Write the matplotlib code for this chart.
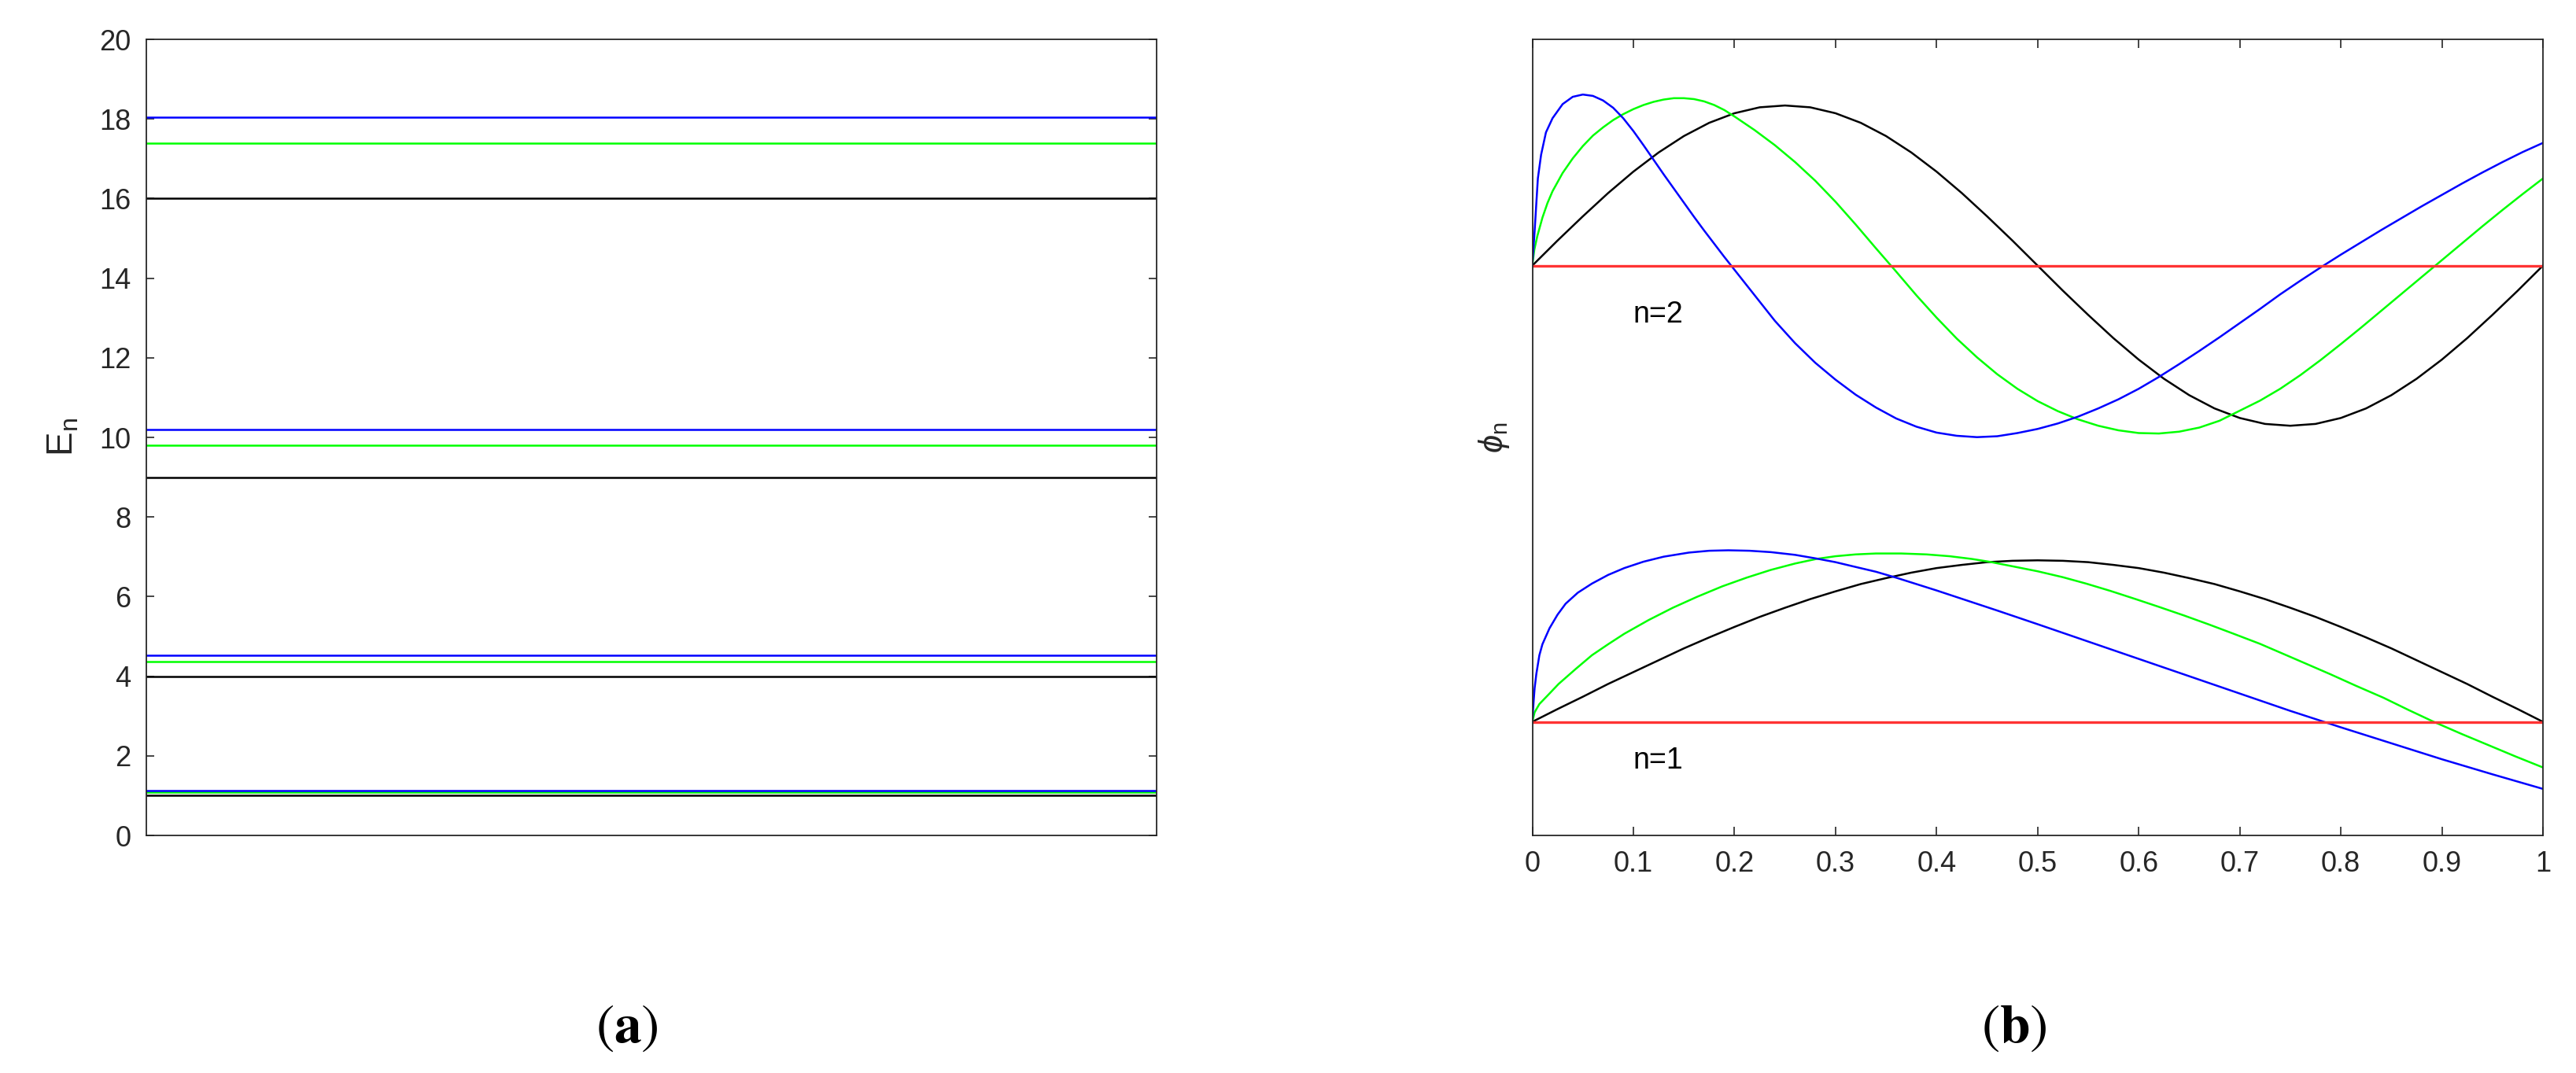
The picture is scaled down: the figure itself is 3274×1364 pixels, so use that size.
import matplotlib
matplotlib.use("Agg")
import matplotlib.pyplot as plt

plt.rcParams['font.family'] = ['Liberation Sans', 'DejaVu Sans']
plt.rcParams['mathtext.fontset'] = 'custom'
plt.rcParams['mathtext.rm'] = 'Liberation Sans'
plt.rcParams['mathtext.it'] = 'Liberation Sans:italic'
plt.rcParams['mathtext.bf'] = 'Liberation Sans:bold'

# ---------------- Panel (a): energy levels ----------------
levels_black = [1.0, 4.0, 9.0, 16.0]
levels_green = [1.087, 4.37, 9.81, 17.39]
levels_blue = [1.133, 4.52, 10.19, 18.05]
a_yticks = [0, 2, 4, 6, 8, 10, 12, 14, 16, 18, 20]

# ---------------- Panel (b): eigenfunctions ----------------
# values are read relative to each baseline (n=1 baseline, n=2 baseline)
x_grid = [0.0, 0.025, 0.05, 0.075, 0.1, 0.125, 0.15, 0.175, 0.2, 0.225, 0.25,
          0.275, 0.3, 0.325, 0.35, 0.375, 0.4, 0.425, 0.45, 0.475, 0.5,
          0.525, 0.55, 0.575, 0.6, 0.625, 0.65, 0.675, 0.7, 0.725, 0.75,
          0.775, 0.8, 0.825, 0.85, 0.875, 0.9, 0.925, 0.95, 0.975, 1.0]
phi1_black = [0, .028, .055, .083, .109, .135, .161, .185, .208, .230, .250,
              .269, .286, .302, .315, .327, .337, .344, .350, .353, .354,
              .353, .350, .344, .337, .327, .315, .302, .286, .269, .250,
              .230, .208, .185, .161, .135, .109, .083, .055, .028, 0]
phi2_black = [0, .055, .108, .159, .206, .248, .284, .313, .334, .347, .351,
              .347, .334, .313, .284, .248, .206, .159, .108, .055, 0,
              -.055, -.108, -.159, -.206, -.248, -.284, -.313, -.334, -.347, -.351,
              -.347, -.334, -.313, -.284, -.248, -.206, -.159, -.108, -.055, 0]

x1_green = [0, 0.0023, 0.007, 0.017, 0.026, 0.043, 0.059, 0.075, 0.091, 0.115,
            0.139, 0.163, 0.188, 0.212, 0.236, 0.26, 0.281, 0.30, 0.32, 0.34,
            0.365, 0.39, 0.413, 0.435, 0.452, 0.475, 0.5, 0.525, 0.548, 0.572,
            0.597, 0.62, 0.645, 0.67, 0.694, 0.72, 0.742, 0.765, 0.79, 0.815,
            0.842, 0.867, 0.892, 0.92, 0.946, 0.973, 1.0]
phi1_green = [0, 0.021, 0.039, 0.062, 0.083, 0.116, 0.146, 0.170, 0.193, 0.223,
              0.250, 0.274, 0.297, 0.316, 0.333, 0.347, 0.357, 0.363, 0.367, 0.369,
              0.369, 0.367, 0.363, 0.357, 0.351, 0.341, 0.330, 0.317, 0.303, 0.287,
              0.269, 0.252, 0.233, 0.213, 0.193, 0.171, 0.150, 0.128, 0.104, 0.079,
              0.053, 0.026, 0.0, -0.027, -0.051, -0.076, -0.100]

x1_blue = [0, 0.0013, 0.0023, 0.004, 0.007, 0.01, 0.017, 0.025, 0.033, 0.045,
           0.059, 0.075, 0.091, 0.11, 0.13, 0.155, 0.175, 0.194, 0.215, 0.236,
           0.26, 0.281, 0.30, 0.317, 0.34, 0.36, 0.38, 0.40, 0.43, 0.46, 0.5,
           0.55, 0.6, 0.65, 0.7, 0.75, 0.8, 0.85, 0.9, 0.95, 1.0]
phi1_blue = [0, 0.045, 0.074, 0.105, 0.146, 0.170, 0.205, 0.235, 0.259, 0.283,
             0.303, 0.322, 0.337, 0.351, 0.362, 0.371, 0.375, 0.376, 0.375, 0.372,
             0.366, 0.358, 0.350, 0.341, 0.329, 0.316, 0.302, 0.288, 0.266, 0.244, 0.214,
             0.176, 0.138, 0.100, 0.062, 0.024, -0.012, -0.047, -0.082, -0.115, -0.147]

x2_green = [0, 0.002, 0.005, 0.01, 0.015, 0.02, 0.03, 0.04, 0.05, 0.06, 0.07,
            0.08, 0.09, 0.10, 0.11, 0.12, 0.13, 0.14, 0.15, 0.16, 0.17, 0.18,
            0.19, 0.20, 0.22, 0.24, 0.26, 0.28, 0.30, 0.32, 0.34, 0.36, 0.38,
            0.40, 0.42, 0.44, 0.46, 0.48, 0.50, 0.52, 0.54, 0.56, 0.58, 0.60,
            0.62, 0.64, 0.66, 0.68, 0.70, 0.72, 0.74, 0.76, 0.78, 0.80, 0.82,
            0.84, 0.86, 0.88, 0.90, 0.92, 0.94, 0.96, 0.98, 1.0]
phi2_green = [0, 0.035, 0.065, 0.105, 0.137, 0.163, 0.203, 0.235, 0.262, 0.285, 0.303,
              0.319, 0.332, 0.343, 0.352, 0.359, 0.364, 0.367, 0.367, 0.365, 0.360, 0.352,
              0.341, 0.327, 0.297, 0.264, 0.227, 0.186, 0.140, 0.090, 0.038, -0.013, -0.065,
              -0.114, -0.160, -0.201, -0.238, -0.270, -0.297, -0.319, -0.337, -0.351, -0.361, -0.367,
              -0.368, -0.364, -0.355, -0.340, -0.318, -0.296, -0.270, -0.240, -0.207, -0.172, -0.136,
              -0.099, -0.062, -0.025, 0.012, 0.049, 0.086, 0.122, 0.157, 0.191]

x2_blue = [0, 0.0023, 0.0055, 0.0087, 0.0135, 0.02, 0.03, 0.04, 0.05, 0.06,
           0.07, 0.08, 0.09, 0.10, 0.11, 0.12, 0.13, 0.14, 0.15, 0.16, 0.17,
           0.18, 0.19, 0.20, 0.22, 0.24, 0.26, 0.28, 0.30, 0.32, 0.34, 0.36,
           0.38, 0.40, 0.42, 0.44, 0.46, 0.48, 0.50, 0.52, 0.54, 0.56, 0.58,
           0.60, 0.62, 0.64, 0.66, 0.68, 0.70, 0.72, 0.74, 0.76, 0.78, 0.80,
           0.82, 0.84, 0.86, 0.88, 0.90, 0.92, 0.94, 0.96, 0.98, 1.0]
phi2_blue = [0, 0.076, 0.191, 0.243, 0.292, 0.323, 0.354, 0.370, 0.375, 0.372,
             0.362, 0.346, 0.323, 0.295, 0.264, 0.232, 0.200, 0.169, 0.138, 0.107, 0.077,
             0.048, 0.019, -0.009, -0.065, -0.121, -0.170, -0.213, -0.250, -0.283, -0.311, -0.335,
             -0.353, -0.366, -0.373, -0.376, -0.374, -0.367, -0.358, -0.346, -0.331, -0.313, -0.293,
             -0.270, -0.244, -0.216, -0.187, -0.157, -0.126, -0.095, -0.063, -0.033, -0.004, 0.024,
             0.051, 0.078, 0.104, 0.130, 0.155, 0.180, 0.204, 0.227, 0.249, 0.269]

baseline_n1 = 0.0
baseline_n2 = 1.0
b_xticks = [0, 0.1, 0.2, 0.3, 0.4, 0.5, 0.6, 0.7, 0.8, 0.9, 1]
b_xticklabels = ['0', '0.1', '0.2', '0.3', '0.4', '0.5', '0.6', '0.7', '0.8', '0.9', '1']

# ---------------- Figure ----------------
W, H = 3274, 1364
fig = plt.figure(figsize=(W / 100, H / 100), dpi=100)

ax_top = 50
ax_bot = 1062
axa = fig.add_axes([186 / W, 1 - ax_bot / H, 1284 / W, (ax_bot - ax_top) / H])
axb = fig.add_axes([1947.5 / W, 1 - ax_bot / H, 1284.5 / W, (ax_bot - ax_top) / H])

tick_color = '#262626'
fs = 26
lw_curve = 1.8

for ax in (axa, axb):
    for sp in ax.spines.values():
        sp.set_linewidth(1.3)
        sp.set_color(tick_color)

# Panel (a)
for v in levels_black:
    axa.plot([0, 1], [v, v], color='black', lw=lw_curve)
for v in levels_green:
    axa.plot([0, 1], [v, v], color=(0, 1, 0), lw=lw_curve)
for v in levels_blue:
    axa.plot([0, 1], [v, v], color=(0, 0, 1), lw=lw_curve)
axa.set_xlim(0, 1)
axa.set_ylim(0, 20)
axa.set_xticks([])
axa.set_yticks(a_yticks)
axa.set_yticklabels([str(t) for t in a_yticks])
axa.tick_params(axis='y', direction='in', length=7.5, width=1.2, color=tick_color,
                labelcolor=tick_color, labelsize=fs, pad=14, left=True, right=True)
axa.set_ylabel('E$_\\mathrm{n}$', fontsize=33, color=tick_color)
axa.yaxis.set_label_coords(-0.0654, 0.5)

# Panel (b)
red = '#ff3333'
axb.plot(x_grid, [baseline_n2 + v for v in phi2_black], color='black', lw=lw_curve)
axb.plot(x2_green, [baseline_n2 + v for v in phi2_green], color=(0, 1, 0), lw=lw_curve)
axb.plot(x2_blue, [baseline_n2 + v for v in phi2_blue], color=(0, 0, 1), lw=lw_curve)
axb.plot(x_grid, [baseline_n1 + v for v in phi1_black], color='black', lw=lw_curve)
axb.plot(x1_green, [baseline_n1 + v for v in phi1_green], color=(0, 1, 0), lw=lw_curve)
axb.plot(x1_blue, [baseline_n1 + v for v in phi1_blue], color=(0, 0, 1), lw=lw_curve)
axb.plot([0, 1], [baseline_n2, baseline_n2], color=red, lw=2.4)
axb.plot([0, 1], [baseline_n1, baseline_n1], color=red, lw=2.4)

axb.text(0.1, 0.876, 'n=2', fontsize=27, color='black', va='baseline', ha='left')
axb.text(0.1, -0.103, 'n=1', fontsize=27, color='black', va='baseline', ha='left')

axb.set_xlim(0, 1)
axb.set_ylim(-0.249, 1.496)
axb.set_yticks([])
axb.set_xticks(b_xticks)
axb.set_xticklabels(b_xticklabels)
axb.tick_params(axis='x', direction='in', length=8, width=1.2, color=tick_color,
                labelcolor=tick_color, labelsize=fs, pad=14, top=True, bottom=True)
axb.set_ylabel('$\\phi_\\mathrm{n}$', fontsize=30, color=tick_color)
axb.yaxis.set_label_coords(-0.021, 0.5)

# Captions
fig.text(797 / W, 1 - 1325 / H, '$(\\mathbf{a})$', fontsize=50, math_fontfamily='stix',
         ha='center', va='baseline', color='black')
fig.text(2559.5 / W, 1 - 1325 / H, '$(\\mathbf{b})$', fontsize=50, math_fontfamily='stix',
         ha='center', va='baseline', color='black')

fig.savefig('out.png', dpi=100, facecolor='white')
